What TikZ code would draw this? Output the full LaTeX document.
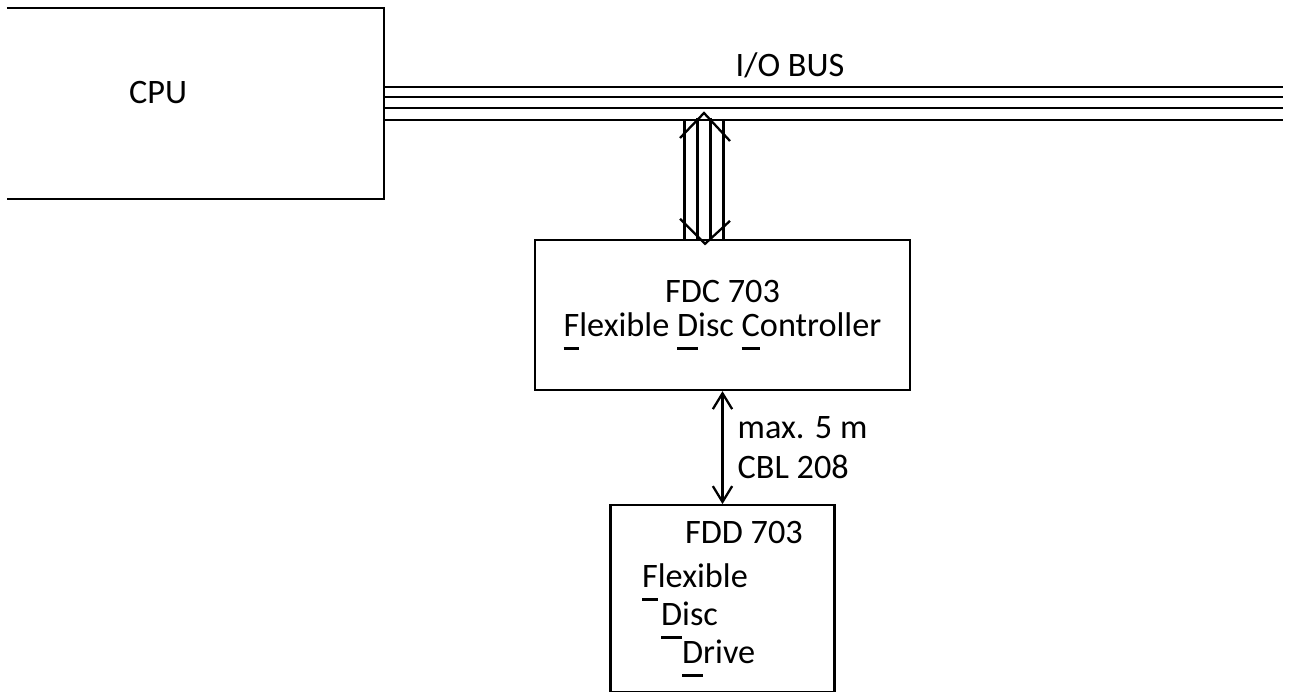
\documentclass[tikz,border=0pt]{standalone}
\usepackage{fontspec}
\setmainfont{Carlito}
\usetikzlibrary{arrows.meta, positioning, calc}
% first letter with the low underline of the typed sheet
\newcommand{\firstul}[1]{\setbox0\hbox{#1}\rlap{\rule[-7.5pt]{\wd0}{1.6pt}}#1}

\begin{document}
\begin{tikzpicture}[
    x=0.02cm, y=-0.02cm,
    box/.style={draw,line width=1.3pt,minimum width=7.5cm,minimum height=3cm,
                align=center,inner sep=0pt},
    txt/.style={font=\fontsize{19.5}{19.5}\selectfont,inner sep=0pt},
    wire/.style={line width=1.3pt},
    arr/.style={{Straight Barb[length=9pt,width=11pt]}-{Straight Barb[length=9pt,width=11pt]},line width=1.3pt}
]
  \useasboundingbox (0,0) rectangle (1292,692);

  % CPU, its left side runs off the sheet
  \node[box,draw=none,minimum height=3.78cm,
        label={[txt,xshift=-0.75cm,yshift=0.21cm]center:CPU}] (cpu) at (195.5,103.5) {};
  \draw[wire] (cpu.north west) -- (cpu.north east) -- (cpu.south east) -- (cpu.south west);

  % I/O bus
  \coordinate (busend) at (1283,120);
  \foreach \y in {87,97,108,120}
    \draw[wire] (cpu.east |- 0,\y) -- (busend |- 0,\y);
  \node[txt] (iobus) at (790,65) {I/O BUS};

  % Controller and drive
  \node[box,txt] (fdc) at (722.5,315) {FDC 703\\\firstul{F}lexible \firstul{D}isc \firstul{C}ontroller};
  \node[box,txt,font=\fontsize{19.5}{21.5}\selectfont,align=left,
        minimum width=4.48cm,minimum height=3.74cm,below=2.26cm of fdc] (fdd)
    {\hspace*{0.86cm}FDD 703\\[4pt]
     \firstul{F}lexible\\
     \hspace*{0.38cm}\firstul{D}isc\\
     \hspace*{0.8cm}\firstul{D}rive};

  % Bus to controller
  \coordinate (fdcTap) at ($(fdc.north)+(-18.5,0)$);
  \coordinate (busTap) at (fdcTap |- busend);
  \foreach \dx in {-19.5,19.5}
    \draw[wire] ($(busTap)+(\dx,0)$) -- ($(fdcTap)+(\dx,0)$);
  \foreach \dx in {-6.5,6.5}
    \draw[wire] ($(busTap)+(\dx,-2)$) -- ($(fdcTap)+(\dx,2)$);
  \draw[wire] ($(busTap)+(-24,18)$) -- ($(busTap)+(0,-7)$) -- ($(busTap)+(26,21)$);
  \draw[wire] ($(fdcTap)+(-24,-20)$) -- ($(fdcTap)+(1,5)$) -- ($(fdcTap)+(26,-18)$);

  % Cable
  \draw[arr] (fdc) -- (fdd) node[midway,right=0.28cm,txt,font=\fontsize{19.5}{22.7}\selectfont,align=left] (cbl) {max. 5 m\\CBL 208};
\end{tikzpicture}
\end{document}
